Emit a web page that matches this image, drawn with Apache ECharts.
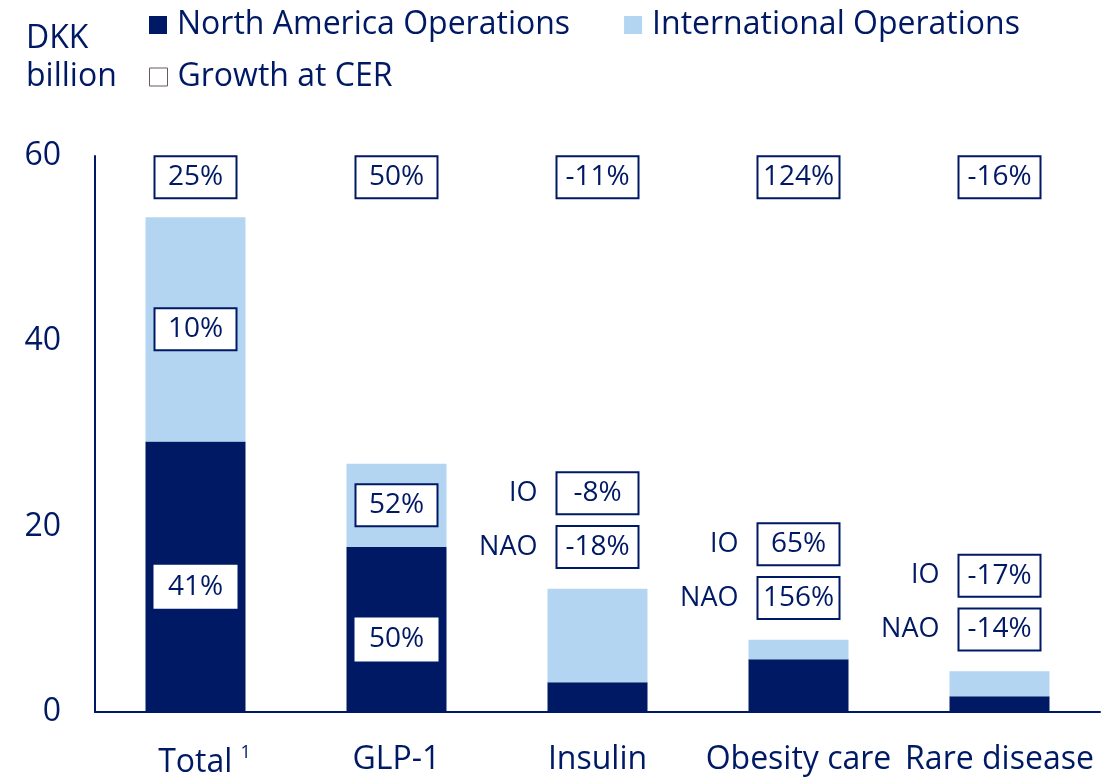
<!DOCTYPE html>
<html>
<head>
<meta charset="utf-8">
<script src="https://cdn.jsdelivr.net/npm/echarts@6/dist/echarts.min.js"></script>
<style>
  html, body { margin: 0; padding: 0; background: #fff; }
  #chart { width: 1114px; height: 779px; }
</style>
</head>
<body>
<div id="chart"></div>
<script>
// data (DKK billion)
const categories = ['Total', 'GLP-1', 'Insulin', 'Obesity care', 'Rare disease'];
const naoValues = [29.2, 17.8, 3.2, 5.7, 1.7];
const ioValues = [24.2, 9.0, 10.1, 2.1, 2.7];
const totalGrowth = ['25%', '50%', '-11%', '124%', '-16%'];
const naoGrowth = ['41%', '50%', '-18%', '156%', '-14%'];
const ioGrowth = ['10%', '52%', '-8%', '65%', '-17%'];
// first two categories show growth inside the bars, the rest above them
const insideCount = 2;

const NAVY = '#001965';
const LIGHT = '#b3d5f1';
const FONT = '"Open Sans", "Noto Sans", sans-serif';

const boxLabel = {
  show: true,
  color: NAVY,
  fontFamily: FONT,
  fontSize: 28,
  backgroundColor: '#fff',
  borderColor: NAVY,
  borderWidth: 2,
  width: 80,
  height: 40,
  lineHeight: 40,
  align: 'center',
  verticalAlign: 'middle'
};

const chart = echarts.init(document.getElementById('chart'));

const naoData = naoValues.map((v, i) => ({
  value: v,
  label: i < insideCount
    ? Object.assign({}, boxLabel, { position: 'inside', offset: [0, 10], borderColor: '#fff', formatter: naoGrowth[i] })
    : { show: false }
}));
const ioData = ioValues.map((v, i) => ({
  value: v,
  label: i < insideCount
    ? Object.assign({}, boxLabel, { position: 'inside', formatter: ioGrowth[i] })
    : { show: false }
}));

// boxes above the smaller bars
const aboveData = [];
categories.forEach((c, i) => {
  if (i < insideCount) return;
  const top = naoValues[i] + ioValues[i];
  aboveData.push({ value: [c, top + 10.3], name: 'IO', txt: ioGrowth[i] });
  aboveData.push({ value: [c, top + 4.5], name: 'NAO', txt: naoGrowth[i] });
});

const option = {
  animation: false,
  textStyle: { fontFamily: FONT },
  title: {
    text: 'DKK\nbillion',
    left: 21,
    top: 15,
    textStyle: { color: NAVY, fontFamily: FONT, fontSize: 32, fontWeight: 'normal', lineHeight: 38 }
  },
  legend: [
    {
      left: 144,
      top: 4,
      itemWidth: 18,
      itemHeight: 18,
      itemGap: 54,
      textStyle: { color: NAVY, fontFamily: FONT, fontSize: 32, padding: [0, 0, 0, 5] },
      data: [
        { name: 'North America Operations', icon: 'rect' },
        { name: 'International Operations', icon: 'rect' }
      ]
    },
    {
      left: 144,
      top: 56,
      itemWidth: 18,
      itemHeight: 18,
      textStyle: { color: NAVY, fontFamily: FONT, fontSize: 32, padding: [0, 0, 0, 5] },
      data: [
        { name: 'Growth at CER', icon: 'rect', itemStyle: { color: '#fff', borderColor: '#6b5a5a', borderWidth: 1 } }
      ]
    }
  ],
  grid: { left: 95, right: 14, top: 156, bottom: 67 },
  xAxis: {
    type: 'category',
    data: categories,
    axisLine: { lineStyle: { color: NAVY, width: 2 } },
    axisTick: { show: false },
    axisLabel: {
      interval: 0,
      hideOverlap: false,
      color: NAVY,
      fontFamily: FONT,
      fontSize: 32,
      margin: 32,
      formatter: v => v === 'Total' ? '{t|Total} {sup|1}' : v,
      rich: {
        t: { fontSize: 32, color: NAVY, padding: [0, 0, 0, 18] },
        sup: { fontSize: 18, verticalAlign: 'top', padding: [0, 0, 20, 0], color: NAVY }
      }
    }
  },
  yAxis: {
    type: 'value',
    min: 0,
    max: 60,
    interval: 20,
    axisLine: { show: true, lineStyle: { color: NAVY, width: 2 } },
    axisTick: { show: false },
    splitLine: { show: false },
    axisLabel: { color: NAVY, fontFamily: FONT, fontSize: 32, margin: 34 }
  },
  series: [
    {
      name: 'North America Operations',
      type: 'bar',
      stack: 'ops',
      barWidth: 100,
      itemStyle: { color: NAVY },
      data: naoData
    },
    {
      name: 'International Operations',
      type: 'bar',
      stack: 'ops',
      barWidth: 100,
      itemStyle: { color: LIGHT },
      data: ioData
    },
    {
      name: 'Growth at CER',
      type: 'scatter',
      symbolSize: 0,
      itemStyle: { color: '#fff', opacity: 1 },
      label: Object.assign({}, boxLabel, { position: 'inside', formatter: p => totalGrowth[p.dataIndex] }),
      data: categories.map(c => [c, 57.7])
    },
    {
      name: 'above-boxes',
      type: 'scatter',
      symbolSize: 0,
      itemStyle: { opacity: 1 },
      label: Object.assign({}, boxLabel, { position: 'inside', formatter: p => p.data.txt }),
      data: aboveData
    },
    {
      name: 'above-names',
      type: 'scatter',
      symbolSize: 0,
      itemStyle: { opacity: 1 },
      label: {
        show: true,
        position: 'left',
        distance: 60,
        color: NAVY,
        fontFamily: FONT,
        fontSize: 27,
        formatter: p => p.name
      },
      data: aboveData
    }
  ]
};

chart.setOption(option);
</script>
</body>
</html>
